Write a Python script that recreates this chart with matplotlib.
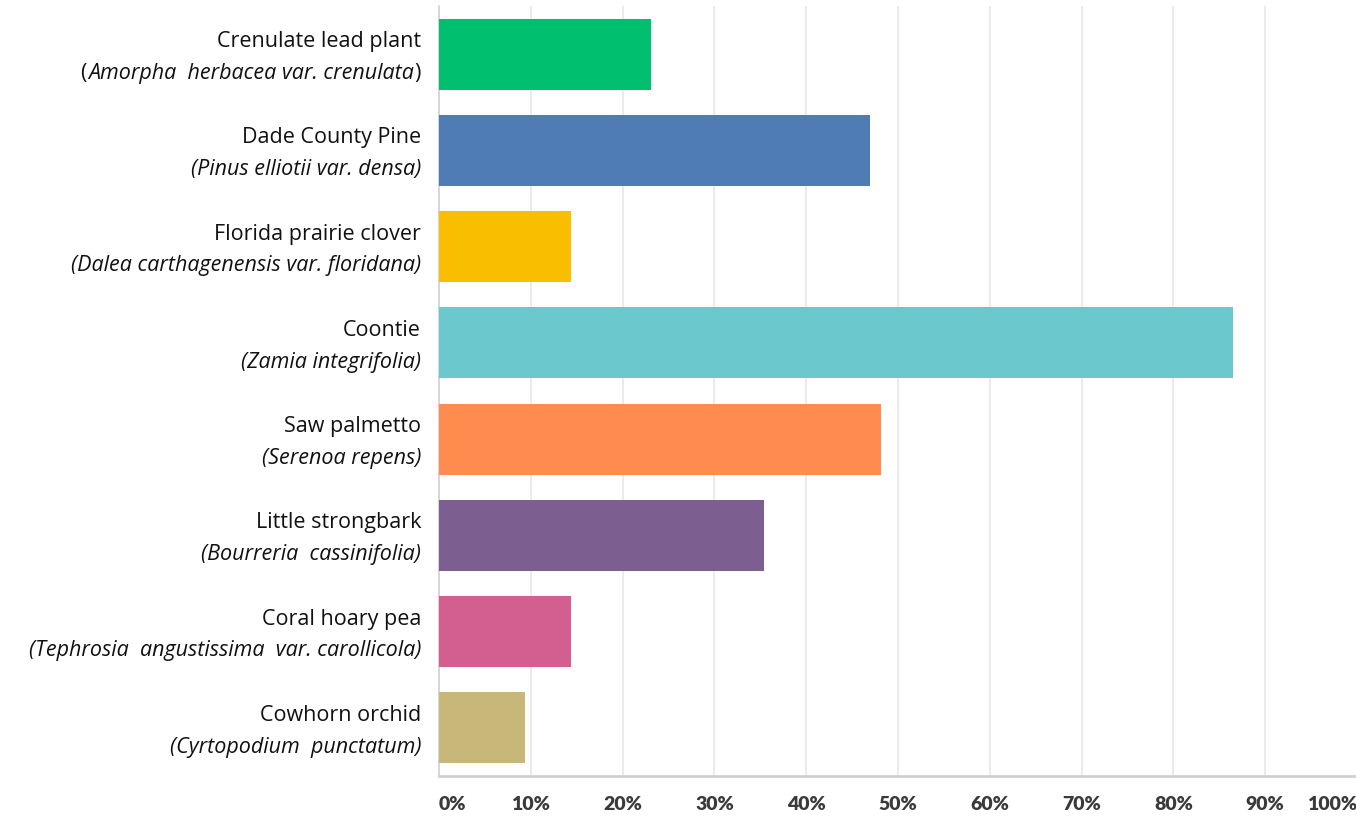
import numpy as np
import matplotlib
matplotlib.use("Agg")
import matplotlib.pyplot as plt
from matplotlib.transforms import blended_transform_factory, offset_copy

common_names = ["Crenulate lead plant", "Dade County Pine", "Florida prairie clover",
                "Coontie", "Saw palmetto", "Little strongbark",
                "Coral hoary pea", "Cowhorn orchid"]
latin_names = ["Amorpha  herbacea var. crenulata", "(Pinus elliotii var. densa)",
               "(Dalea carthagenensis var. floridana)", "(Zamia integrifolia)",
               "(Serenoa repens)", "(Bourreria  cassinifolia)",
               "(Tephrosia  angustissima  var. carollicola)", "(Cyrtopodium  punctatum)"]
percent = [23.1, 46.9, 14.4, 86.5, 48.1, 35.4, 14.4, 9.4]
colors = ["#00BF6F", "#507CB6", "#F9BE00", "#6BC8CD",
          "#FF8B4F", "#7D5E90", "#D25F90", "#C7B879"]
ticks = np.arange(0, 101, 10)

fig = plt.figure(figsize=(13.56, 8.2), dpi=100)
ax = fig.add_axes([439 / 1356, 43 / 820, 918 / 1356, 770 / 820])

y = np.arange(len(percent))
ax.barh(y, percent, height=0.74, color=colors, zorder=3)
ax.set_ylim(len(percent) - 0.5, -0.5)
ax.set_xlim(0, 100)

for t in ticks[1:]:
    ax.axvline(t, color="#e8e8e8", lw=1.2, zorder=1)

for s in ["top", "right"]:
    ax.spines[s].set_visible(False)
ax.spines["left"].set_color("#d0d0d0")
ax.spines["left"].set_linewidth(1.2)
ax.spines["bottom"].set_color("#d0d0d0")
ax.spines["bottom"].set_linewidth(2)

ax.set_yticks([])
ax.set_xticks(ticks)
ax.set_xticklabels([f"{t}%" for t in ticks], fontweight="heavy", fontsize=14,
                   color="#3a3a3a", family="Lato")
ax.tick_params(axis="x", length=0, pad=14)
labels = ax.get_xticklabels()
labels[0].set_ha("left")
labels[-1].set_ha("right")

tr = blended_transform_factory(ax.transAxes, ax.transData)
font = dict(fontsize=15.5, family="Open Sans", color="#111111", va="center")
fig.canvas.draw()
renderer = fig.canvas.get_renderer()
for i, (cn, ln) in enumerate(zip(common_names, latin_names)):
    ax.text(-0.0196, i - 0.14, cn, transform=tr, ha="right", **font)
    if ln.startswith("("):
        ax.text(-0.0196, i + 0.19, ln, transform=tr, ha="right", style="italic", **font)
    else:
        # upright parentheses around an italic name
        close = ax.text(-0.0196, i + 0.19, ")", transform=tr, ha="right", **font)
        w = close.get_window_extent(renderer).width
        mid = ax.text(-0.0196, i + 0.19, ln, ha="right", style="italic",
                      transform=offset_copy(tr, fig=fig, x=-w - 1, units="dots"), **font)
        w2 = mid.get_window_extent(renderer).width
        ax.text(-0.0196, i + 0.19, "(", ha="right",
                transform=offset_copy(tr, fig=fig, x=-w - w2 - 2, units="dots"), **font)

fig.savefig("out.png", dpi=100)
